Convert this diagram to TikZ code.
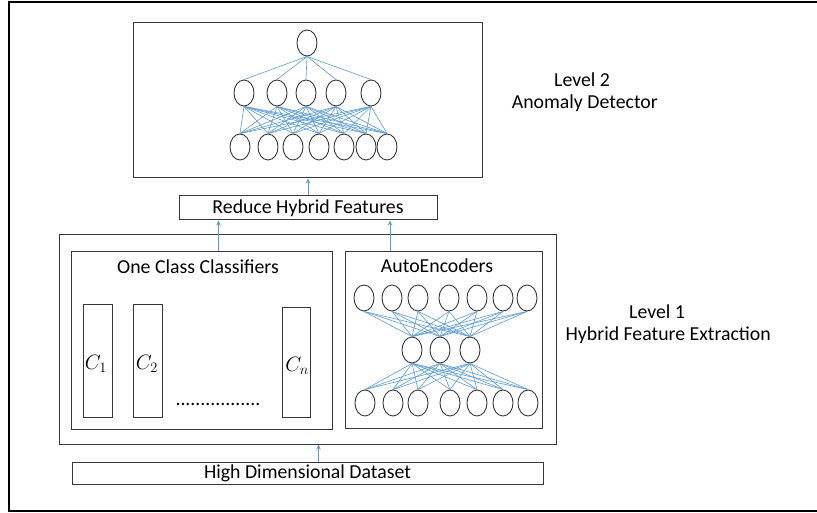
\documentclass[tikz,border=0pt]{standalone}
\usepackage{fontspec}
\setmainfont{Carlito}
\usetikzlibrary{shapes.geometric,arrows.meta}
\definecolor{netblue}{RGB}{91,155,213}
\definecolor{boxgray}{RGB}{55,55,55}
\begin{document}
\begin{tikzpicture}[x=1pt,y=-1pt]
\tikzstyle{every node}+=[inner sep=0pt]
\tikzstyle{box}=[draw=boxgray,line width=1pt,rectangle]
\tikzstyle{unit}=[draw=boxgray,line width=0.9pt,ellipse,minimum width=20pt,minimum height=26pt]
\tikzstyle{wire}=[netblue,line width=0.6pt]
\tikzstyle{feed}=[netblue,line width=0.8pt,-{Stealth[length=5pt,width=4.5pt]}]
\tikzstyle{txt}=[font=\fontsize{19.8}{23}\selectfont]
\tikzstyle{clbl}=[font=\fontsize{20.74}{24}\selectfont]
\useasboundingbox (0,0) rectangle (817,513);
\draw [black,line width=2pt] (817,2) -- (9,2) -- (9,511) -- (817,511);
% level 2
\node [box,minimum width=349pt,minimum height=155pt] (detector) at (308,100.5) {};
\node [box,txt,minimum width=258pt,minimum height=24pt] (reduce) at (308,208) {Reduce Hybrid Features};
\node [unit] (out) at (307,43) {};
\foreach \x [count=\i] in {244,277,306,336,371} \node [unit] (h\i) at (\x,93) {};
\foreach \x [count=\i] in {240,268,293,319,344,366,387} \node [unit] (in\i) at (\x,147) {};
\foreach \i in {1,...,5} {
  \draw [wire] (out.south) -- (h\i.north);
  \foreach \j in {1,...,7} \draw [wire] (h\i.south) -- (in\j.north);
}
% level 1
\node [box,minimum width=497pt,minimum height=209pt] (level1) at (307.5,339.5) {};
\node [box,minimum width=261pt,minimum height=177pt] (occ) at (201.5,340.5) {};
\node [box,minimum width=197pt,minimum height=176pt] (ae) at (443.5,340) {};
\node [txt] (occlbl) at (198,267) {One Class Classifiers};
\node [txt] (aelbl) at (437,266) {AutoEncoders};
\node [box,minimum width=29pt,minimum height=113pt] (c1) at (97.5,360.5) {};
\node [box,minimum width=29pt,minimum height=113pt] (c2) at (147.5,360.5) {};
\node [box,minimum width=28pt,minimum height=110pt] (cn) at (296,362) {};
\node [clbl] (c1lbl) at (96,364) {$C_1$};
\node [clbl] (c2lbl) at (147,364) {$C_2$};
\node [clbl] (cnlbl) at (297,366) {$C_n$};
\node [txt] (dots) at (218,404) {.................};
\foreach \x [count=\i] in {364,392,418,449,477,503,527} \node [unit] (e\i) at (\x,298) {};
\foreach \x [count=\i] in {412,440,470} \node [unit] (z\i) at (\x,350) {};
\foreach \x [count=\i] in {365,393,418,450,477,503,528} \node [unit] (d\i) at (\x,403) {};
\foreach \i in {1,...,3} \foreach \j in {1,...,7} {
  \draw [wire] (e\j.south) -- (z\i.north);
  \draw [wire] (z\i.south) -- (d\j.north);
}
\node [box,txt,minimum width=471pt,minimum height=22pt] (dataset) at (307.5,473) {High Dimensional Dataset};
% arrows
\coordinate (o1) at ([xshift=17pt]occ.north);
\coordinate (a1) at ([xshift=-53.5pt]ae.north);
\coordinate (s1) at ([xshift=11pt]dataset.north);
\draw [feed] (s1) -- (s1 |- level1.south);
\draw [feed] (o1) -- (o1 |- reduce.south);
\draw [feed] (a1) -- (a1 |- reduce.south);
\draw [feed] (reduce.north) -- (detector.south);
% side labels
\node [txt,anchor=west] (lvl2) at (554,80) {Level 2};
\node [txt,anchor=east] (lvl2sub) at (658,103) {Anomaly Detector};
\node [txt,anchor=west] (lvl1) at (629,312) {Level 1};
\node [txt,anchor=east] (lvl1sub) at (771,335) {Hybrid Feature Extraction};
\end{tikzpicture}
\end{document}
